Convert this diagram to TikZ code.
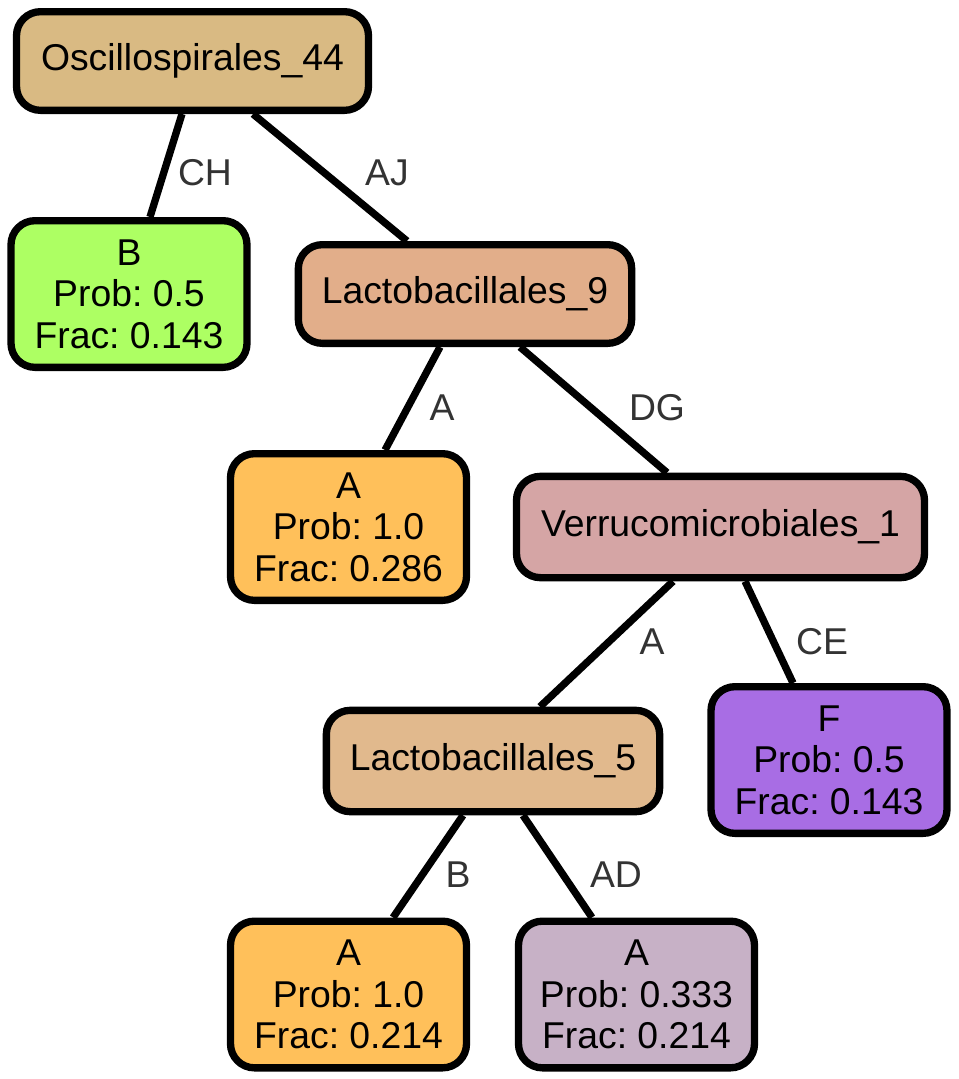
\documentclass[tikz,border=0pt]{standalone}
\usepackage{fontspec}
\setmainfont{Liberation Sans}
\usepackage{xcolor}
\usepackage{tikz}
\usetikzlibrary{shapes,arrows,positioning,backgrounds}
\definecolor{oscbrown}{RGB}{217,186,131}
\definecolor{leafgreen}{RGB}{173,255,99}
\definecolor{lactonine}{RGB}{226,174,138}
\definecolor{leaforange}{RGB}{255,192,90}
\definecolor{verrpink}{RGB}{213,165,165}
\definecolor{lactofive}{RGB}{225,185,141}
\definecolor{leafpurple}{RGB}{168,109,228}
\definecolor{leafmauve}{RGB}{199,177,198}
\frenchspacing

\begin{document}
\begin{tikzpicture}[x=0.75pt, y=-0.75pt,
    tnode/.style={rectangle, rounded corners=18pt, draw=black, line width=5.5pt, minimum height=74pt, inner sep=0pt, align=center, font=\fontsize{28}{31}\selectfont},
    leaf/.style={tnode, minimum width=177pt, minimum height=110pt},
    edge/.style={line width=5.5pt},
    elabel/.style={text=black!80, font=\fontsize{28}{31}\selectfont}
]
    \useasboundingbox (0,0) rectangle (958,1079);

    \node[tnode, fill=oscbrown, minimum width=264pt] (osc) at (192.5,61) {Oscillospirales\_44};
    \node[leaf, fill=leafgreen] (b) at (129,294) {B\\Prob: 0.5\\Frac: 0.143};
    \node[tnode, fill=lactonine, minimum width=250pt] (lac9) at (465,294) {Lactobacillales\_9};
    \node[leaf, fill=leaforange] (a1) at (348.5,527) {A\\Prob: 1.0\\Frac: 0.286};
    \node[tnode, fill=verrpink, minimum width=306pt, minimum height=76pt] (verr) at (720.5,527) {Verrucomicrobiales\_1};
    \node[tnode, fill=lactofive, minimum width=250pt, minimum height=76pt] (lac5) at (493,761) {Lactobacillales\_5};
    \node[leaf, fill=leafpurple] (f) at (829,760) {F\\Prob: 0.5\\Frac: 0.143};
    \node[leaf, fill=leaforange] (a2) at (348.5,994.5) {A\\Prob: 1.0\\Frac: 0.214};
    \node[leaf, fill=leafmauve] (a3) at (636.5,994.5) {A\\Prob: 0.333\\Frac: 0.214};

    \begin{scope}[on background layer]
    \draw[edge] ([xshift=-7.9pt]osc.south) -- ([xshift=15.75pt]b.north) node[elabel] at (205,173) {CH};
    \draw[edge] ([xshift=45.4pt]osc.south) -- ([xshift=-43.5pt]lac9.north) node[elabel] at (387,173) {AJ};
    \draw[edge] ([xshift=-18.75pt]lac9.south) -- ([xshift=27.4pt]a1.north) node[elabel] at (442,408) {A};
    \draw[edge] ([xshift=41.25pt]lac9.south) -- ([xshift=-40.1pt]verr.north) node[elabel] at (657,408) {DG};
    \draw[edge] ([xshift=-35.6pt]verr.south) -- ([xshift=35.25pt]lac5.north) node[elabel] at (652,642) {A};
    \draw[edge] ([xshift=18.4pt]verr.south) -- ([xshift=-27pt]f.north) node[elabel] at (822,642) {CE};
    \draw[edge] ([xshift=-22.5pt]lac5.south) -- ([xshift=33.4pt]a2.north) node[elabel] at (458,875) {B};
    \draw[edge] ([xshift=22.5pt]lac5.south) -- ([xshift=-33.4pt]a3.north) node[elabel] at (616,875) {AD};
    \end{scope}
\end{tikzpicture}
\end{document}
